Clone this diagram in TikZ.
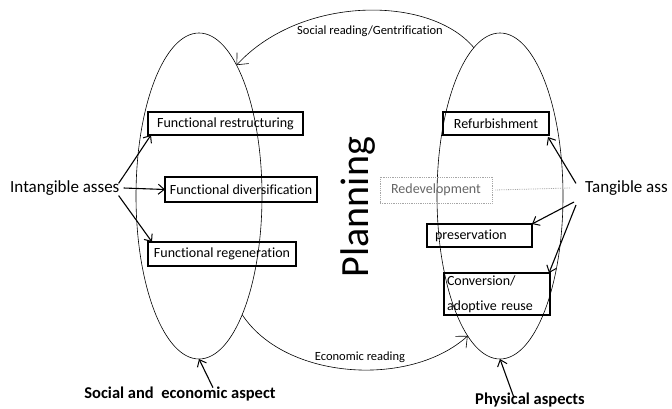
\documentclass[tikz,border=0pt]{standalone}
\usepackage{fontspec}
\setmainfont{Carlito}[Ligatures=NoCommon]
\usetikzlibrary{shapes.geometric,arrows.meta}
\begin{document}
\begin{tikzpicture}[x=1pt,y=-1pt,
  oval/.style={ellipse,draw,line width=0.6pt,inner sep=0pt,outer sep=0pt,minimum width=126pt,minimum height=326pt},
  box/.style={draw,line width=1.1pt,inner sep=0pt,outer sep=0pt,font=\fontsize{14}{17}\selectfont},
  dotbox/.style={draw=gray!70,densely dotted,line width=0.8pt,inner sep=0pt,outer sep=0pt,text=black!60,font=\fontsize{14}{17}\selectfont},
  arr/.style={line width=1.1pt,-{Straight Barb[length=6pt,width=10pt,line width=1pt]}},
  arcarr/.style={line width=0.6pt,-{Straight Barb[length=9pt,width=16pt,line width=0.6pt]}},
  lab/.style={font=\fontsize{12.5}{15}\selectfont,inner sep=0pt},
  side/.style={font=\fontsize{17}{20}\selectfont,inner sep=0pt},
  bold/.style={font=\fontsize{16.5}{20}\selectfont\bfseries,inner sep=0pt}
]
\useasboundingbox[fill=white] (0,0) rectangle (672,409);

% ellipses
\node[oval] (lell) at (199,196) {};
\node[oval] (rell) at (500,196) {};

% arcs
\draw[arcarr] (rell.100) .. controls (430,-5) and (301,-5) .. (lell.74);
\draw[arcarr] (lell.-70) .. controls (285,380) and (410,388) .. (rell.257);
\node[lab] (soc) at (370,31) {Social reading/Gentrification};
\node[lab] (eco) at (360,357) {Economic reading};

% left boxes
\node[box,minimum width=155pt,minimum height=23pt] (restr) at (225.5,123.5) {Functional restructuring};
\node[box,minimum width=152pt,minimum height=25pt] (divers) at (241,189.5) {Functional diversification};
\node[box,minimum width=148pt,minimum height=24pt] (regen) at (222,254) {Functional regeneration};

% right boxes
\node[box,minimum width=106pt,minimum height=23pt] (refurb) at (496,123.5) {Refurbishment};
\node[dotbox,minimum width=112pt,minimum height=26pt] (redev) at (436,190) {Redevelopment};
\node[box,text width=89pt,inner xsep=8pt,align=left,minimum height=23pt] (preserv) at (479.5,235.5) {preservation};
\node[box,text width=100pt,inner xsep=3pt,align=left,minimum height=42pt,font=\fontsize{14}{25}\selectfont] (conv) at (497,294) {Conversion/\\adoptive reuse};

% Planning
\node[font=\fontsize{40}{44}\selectfont,rotate=90,inner sep=0pt] (plan) at (358,207) {Planning};

% side labels
\node[side,anchor=west] (intang) at (10,188) {Intangible asses};
\node[side,anchor=west] (tang) at (585,188) {Tangible ass};

\draw[arr] ([xshift=-1pt,yshift=-3pt]intang.north east) -- ([xshift=3pt]restr.south west);
\draw[arr] ([xshift=4pt]intang.east) -- (divers.west);
\draw[arr] ([xshift=-1pt]intang.south east) -- ([xshift=4pt]regen.north west);

\draw[arr] ([xshift=-9pt,yshift=-3pt]tang.north west) -- ([xshift=-1pt,yshift=-2pt]refurb.south east);
\draw[densely dotted,draw=gray!70,line width=0.8pt] ([xshift=-15pt]tang.west) -- ([xshift=3pt]redev.east);
\draw[arr] ([xshift=-11pt,yshift=-14pt]tang.west) -- (preserv.north east);
\draw[arr] ([xshift=-9pt,yshift=-17pt]tang.west) -- ([xshift=-1pt]conv.north east);

% bottom labels
\node[bold] (socec) at (180,394) {Social and\ \ economic aspect};
\node[bold] (phys) at (530,400) {Physical aspects};
\draw[arr] ([xshift=33pt,yshift=-1pt]socec.north) -- (lell.south);
\draw[arr] ([xshift=-16pt,yshift=-5pt]phys.north) -- (rell.south);
\end{tikzpicture}
\end{document}
